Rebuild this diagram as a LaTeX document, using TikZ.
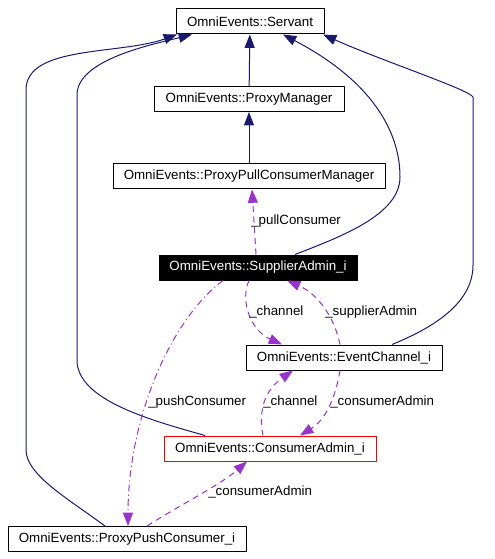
\documentclass[tikz,border=0pt]{standalone}
\usepackage{fontspec}
\setmainfont{Liberation Sans}
\usepackage{xcolor}
\usetikzlibrary{arrows.meta,calc}
\definecolor{inhblue}{HTML}{191970}
\definecolor{usepurple}{HTML}{9A32CD}
\begin{document}
\begin{tikzpicture}[x=0.75pt, y=-0.75pt, line join=round,
    cls/.style={draw=black, line width=0.75pt, minimum height=18.75pt, inner xsep=0pt,
      font=\fontsize{10}{12}\selectfont},
    inherit/.style={draw=inhblue, line width=0.75pt, -{Triangle[length=10pt,width=7.5pt]}},
    usage/.style={draw=usepurple, line width=0.75pt, dash pattern=on 4.5pt off 3.5pt,
      -{Triangle[length=10pt,width=7.5pt]}},
    lbl/.style={anchor=west, inner sep=0pt, font=\fontsize{10}{12}\selectfont}]
    \useasboundingbox (0,0) rectangle (494,559);
    \node[cls, minimum width=111pt] (servant) at (250,21.5) {OmniEvents::Servant};
    \node[cls, minimum width=142.5pt] (pmgr) at (249,99) {OmniEvents::ProxyManager};
    \node[cls, minimum width=204pt] (ppcm) at (249,176.5) {OmniEvents::ProxyPullConsumerManager};
    \node[cls, minimum width=148.5pt, fill=black, text=white] (sadm) at (258,267.5) {OmniEvents::SupplierAdmin\_i};
    \node[cls, minimum width=147pt] (echan) at (344,357.5) {OmniEvents::EventChannel\_i};
    \node[cls, minimum width=159pt, draw=red] (cadm) at (270,448.5) {OmniEvents::ConsumerAdmin\_i};
    \node[cls, minimum width=178.5pt] (ppush) at (127,539) {OmniEvents::ProxyPushConsumer\_i};
    % inheritance
    \draw[inherit] (pmgr) -- (servant);
    \draw[inherit] (ppcm) -- (pmgr);
    \draw[inherit] ($(sadm.north)+(37,0)$) .. controls (340,237) and (400,215) .. (400,177)
        .. controls (400,130) and (370,80) .. ($(servant.south)+(33,0)$);
    \draw[inherit] ($(echan.north)+(48,0)$) .. controls (440,325) and (473,300) .. (473,265) -- (473,97)
        .. controls (470,90) and (380,60) .. ($(servant.south)+(73,0)$);
    \draw[inherit] ($(cadm.north)+(-65,0)$) .. controls (150,420) and (77,400) .. (77,360) -- (77,95)
        .. controls (77,60) and (150,45) .. ($(servant.south)+(-58,0)$);
    \draw[inherit] ($(ppush.north)+(-22,0)$) .. controls (70,500) and (26,475) .. (26,450) -- (26,90)
        .. controls (26,45) and (120,55) .. ($(servant.south)+(-73,0)$);
    % usage
    \draw[usage] ($(sadm.north)+(-2,0)$) -- ($(ppcm.south)+(3,0)$);
    \node[lbl] (lpull) at (251,221) {\_pullConsumer};
    \draw[usage] ($(sadm.south)+(-9,0)$) .. controls (240,300) and (250,330) .. ($(echan.north)+(-62,0)$);
    \node[lbl] (lchan1) at (249,312) {\_channel};
    \draw[usage] ($(echan.north)+(-4,0)$) .. controls (335,320) and (320,295) .. ($(sadm.south)+(29,0)$);
    \node[lbl] (lsadm) at (325,312) {\_supplierAdmin};
    \draw[usage, dash pattern=on 5pt off 2.5pt on 0.8pt off 2.5pt] ($(sadm.south)+(-35,0)$)
        .. controls (170,320) and (128,420) .. ($(ppush.north)+(1,0)$);
    \node[lbl] (lpush) at (148,402) {\_pushConsumer};
    \draw[usage] ($(cadm.north)+(-7,0)$) .. controls (258,410) and (265,390) .. ($(echan.south)+(-51,0)$);
    \node[lbl] (lchan2) at (263,402) {\_channel};
    \draw[usage] ($(echan.south)+(-4,0)$) .. controls (335,400) and (325,420) .. ($(cadm.north)+(30,0)$);
    \node[lbl] (lcadm1) at (330,402) {\_consumerAdmin};
    \draw[usage] ($(ppush.north)+(20,0)$) .. controls (180,505) and (220,485) .. ($(cadm.south)+(-23,0)$);
    \node[lbl] (lcadm2) at (208,492) {\_consumerAdmin};
\end{tikzpicture}
\end{document}
